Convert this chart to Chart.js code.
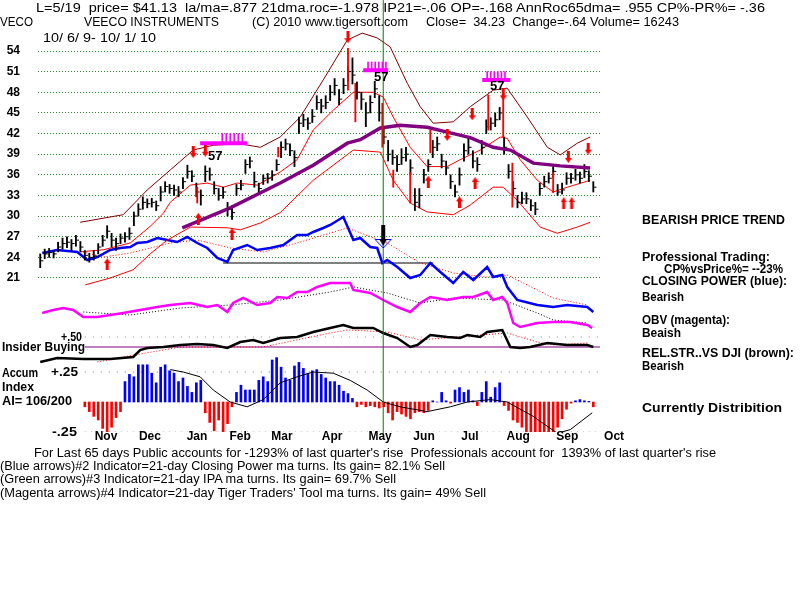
<!DOCTYPE html>
<html>
<head>
<meta charset="utf-8">
<script src="https://cdn.jsdelivr.net/npm/chart.js@4.4.1/dist/chart.umd.min.js"></script>
<style>
html,body{margin:0;padding:0;background:#fff;}
#wrap{position:relative;width:800px;height:600px;overflow:hidden;background:#fff}
#c{position:absolute;left:0;top:0}
.t{position:absolute;white-space:pre;font-family:"Liberation Sans",Arial,sans-serif;font-size:13px;line-height:14px;color:#000;transform-origin:0 0;z-index:2}
.b{font-weight:bold;font-size:12px}
.s{font-size:12px}
</style>
</head>
<body>
<div id="wrap">
<canvas id="c" width="800" height="600"></canvas>
<div class="t" style="left:36px;top:1px" data-w="729">L=5/19  price= $41.13  la/ma=.877 21dma.roc=-1.978 IP21=-.06 OP=-.168 AnnRoc65dma= .955 CP%-PR%= -.36</div>
<div class="t" style="left:0px;top:15px" data-w="33">VECO</div>
<div class="t" style="left:84px;top:15px" data-w="135">VEECO INSTRUMENTS</div>
<div class="t" style="left:252px;top:15px" data-w="156">(C) 2010 www.tigersoft.com</div>
<div class="t" style="left:426px;top:15px" data-w="253">Close=  34.23  Change=-.64 Volume= 16243</div>
<div class="t" style="left:43px;top:31px" data-w="113">10/ 6/ 9- 10/ 1/ 10</div>

<div class="t b" style="left:642px;top:213px" data-w="143">BEARISH PRICE TREND</div>
<div class="t b" style="left:642px;top:250px" data-w="128">Professional Trading:</div>
<div class="t b" style="left:664px;top:262px" data-w="119">CP%vsPrice%= --23%</div>
<div class="t b" style="left:642px;top:274px" data-w="145">CLOSING POWER (blue):</div>
<div class="t b" style="left:642px;top:290px" data-w="42">Bearish</div>
<div class="t b" style="left:642px;top:313px" data-w="88">OBV (magenta):</div>
<div class="t b" style="left:642px;top:326px" data-w="39">Beaish</div>
<div class="t b" style="left:642px;top:346px" data-w="152">REL.STR..VS DJI (brown):</div>
<div class="t b" style="left:642px;top:359px" data-w="42">Bearish</div>
<div class="t b" style="left:642px;top:401px" data-w="140">Currently Distribition</div>

<div class="t b" style="left:61px;top:330px" data-w="21">+.50</div>
<div class="t b" style="left:2px;top:340px" data-w="83">Insider Buying</div>
<div class="t b" style="left:2px;top:366px" data-w="36">Accum</div>
<div class="t b" style="left:51px;top:365px" data-w="27">+.25</div>
<div class="t b" style="left:2px;top:380px" data-w="32">Index</div>
<div class="t b" style="left:2px;top:394px" data-w="70">AI= 106/200</div>
<div class="t b" style="left:52px;top:425px" data-w="25">-.25</div>

<div class="t s" style="left:34px;top:446px" data-w="682">For Last 65 days Public accounts for -1293% of last quarter's rise  Professionals account for  1393% of last quarter's rise</div>
<div class="t s" style="left:0px;top:459px" data-w="445">(Blue arrows)#2 Indicator=21-day Closing Power ma turns. Its gain= 82.1% Sell</div>
<div class="t s" style="left:0px;top:472px" data-w="396">(Green arrows)#3 Indicator=21-day IPA ma turns. Its gain= 69.7% Sell</div>
<div class="t s" style="left:0px;top:486px" data-w="486">(Magenta arrows)#4 Indicator=21-day Tiger Traders' Tool ma turns. Its gain= 49% Sell</div>
</div>
<script>
// ---------- DATA (x = trading-day index from 10/6/09) ----------
const priceTicks = [21,24,27,30,33,36,39,42,45,48,51,54];
const monthLabels = ['Nov','Dec','Jan','Feb','Mar','Apr','May','Jun','Jul','Aug','Sep','Oct'];
const monthDay = [29.5,49.2,70.3,89.6,108.4,130.9,152.4,172.1,192.7,214.3,236.3,257.3];

// daily bars, sampled every 2 trading days
const priceClose = [23.5,24.5,24.7,24.5,25.5,26.0,26.2,26.0,26.5,25.5, 24.3,24.0,24.2,25.5,26.5,27.8,26.5,26.0,26.8,27.0,
 27.5,30.0,31.0,32.0,31.8,32.0,31.5,33.5,34.3,34.0, 33.8,33.5,35.0,36.5,35.8,33.5,33.0,36.5,36.0,34.0,
 33.0,33.5,31.0,30.5,34.0,34.5,37.5,38.0,35.0,34.0, 35.5,35.5,36.0,37.5,40.0,40.5,39.5,38.5,43.5,44.0,
 43.5,44.5,46.5,46.0,46.5,48.0,49.0,47.0,49.0,51.0, 50.5,48.0,47.0,45.0,46.5,48.5,45.0,41.5,39.0,38.5,
 37.5,38.5,39.0,37.0,32.0,33.0,36.0,37.5,40.0,40.5, 38.0,37.0,35.0,33.5,36.0,39.5,40.0,38.0,37.5,40.0,
 43.0,43.5,44.0,45.0,40.0,36.5,34.0,32.0,32.5,32.5, 31.5,31.0,34.0,35.0,35.5,36.5,33.5,33.8,35.5,35.5,
 36.0,35.5,36.5,35.8,34.2];
const priceLow = [22.5,23.8,24.0,23.9,24.8,25.2,25.4,25.0,25.6,24.8, 23.6,23.3,23.6,24.5,25.6,26.8,25.5,25.0,26.0,26.2,
 26.6,28.6,30.0,31.0,31.2,31.3,30.8,32.2,33.5,33.3, 33.0,32.8,34.0,35.5,35.0,32.8,31.6,35.0,35.2,33.2,
 32.3,32.6,30.0,29.5,33.0,33.8,36.2,37.0,34.2,33.3, 34.6,34.8,35.2,36.6,38.5,39.6,38.8,37.2,42.0,43.0,
 42.6,43.6,45.5,45.0,45.6,46.8,47.6,46.2,47.8,49.6, 49.2,47.0,45.5,43.0,45.0,47.2,43.8,40.5,38.0,37.5,
 36.5,37.5,38.0,36.0,30.8,31.2,34.8,36.5,38.5,39.5, 37.0,36.0,34.0,32.8,34.5,38.0,39.0,37.0,36.5,39.0,
 42.0,42.5,43.0,44.0,39.0,35.5,33.0,31.2,31.8,31.8, 30.8,30.2,33.0,34.2,34.8,35.6,33.0,33.2,34.6,34.8,
 35.2,34.8,35.6,35.0,33.5];
const priceHigh = [24.5,25.2,25.3,25.0,26.2,26.8,27.0,26.6,27.2,26.3, 25.0,24.6,25.0,26.0,27.2,28.6,27.5,26.8,27.4,27.6,
 28.3,30.6,31.8,32.8,32.5,32.6,32.2,34.3,35.0,34.6, 34.5,34.3,35.6,37.4,36.6,34.8,33.8,37.3,37.0,35.0,
 34.0,34.2,32.0,31.5,34.6,35.2,38.2,38.6,36.4,34.8, 36.0,36.2,36.6,38.2,40.8,41.2,40.5,39.5,44.4,44.8,
 44.3,45.5,47.5,47.0,47.5,49.0,50.0,48.4,50.0,51.8, 53.0,49.5,48.0,46.5,47.5,49.6,47.5,43.0,41.0,39.6,
 38.8,39.8,40.0,38.2,34.0,34.0,36.8,38.2,41.0,41.5, 39.0,38.0,36.0,34.5,37.0,40.5,41.5,39.5,38.5,41.0,
 44.0,44.3,45.0,45.8,41.5,37.5,35.0,33.0,33.5,33.4, 32.4,32.0,34.8,35.8,36.3,37.2,34.6,34.8,36.3,36.2,
 36.8,36.4,37.5,36.6,35.0];

// red (signal) bars
const redBarDay  = [70.4,106.7,138,141.3,153.4,158.3,165.9,174.9,200.9,207.6,211.7,230];
const redBarLow  = [31.9,38.6,48.3,43.7,40.0,34.2,31.9,39.2,42.5,41.5,31.3,33.4];
const redBarHigh = [34.2,40.0,54.4,49.3,46.4,36.7,36.3,42.5,47.6,47.9,37.7,36.3];

// bands and moving averages (price units)
const upperDay = [17.9,37.2,48.0,58.3,68.6,77.6,89.7,98.7,107.6,116.6,126.9,137.7,144.4,151.1,156.9,164.6,170.4,176.2,185.2,192.8,203.1,209.4,218.4,227.4,233.2,240.8,246.6];
const upperVal = [29.1,30.2,33.8,36.7,39.6,40.3,40.5,40.0,41.5,44.4,49.8,55.6,56.6,55.9,54.6,49.3,45.9,43.5,43.7,45.9,48.3,48.6,44.4,40.0,38.9,40.6,41.5];
const midDay = [17.9,28.3,40.4,49.3,55.2,58.3,67.3,74.9,82.1,88.3,97.3,107.6,115.2,122.4,131.4,140.4,149.3,153.8,158.3,165.9,173.5,182.5,188.3,197.3,206.3,209.4,215.2,222.9,230,236.3,246.6];
const midVal = [24.8,25.1,26.1,28.5,30.4,32.0,34.5,34.8,34.2,34.8,34.5,36.4,38.2,42.5,45.4,48.0,48.0,47.3,44.4,40.0,37.2,37.2,38.2,39.6,41.5,41.3,38.2,35.2,33.5,34.2,35.2];
const lowerDay = [20.2,31.4,41.7,49.3,56.9,67.3,83.9,89.7,98.7,107.6,122.4,140.4,152.5,158.3,165.9,173.5,185.2,192.8,203.1,207.6,213.9,224.2,231.8,240.8,246.6];
const lowerVal = [20.0,21.0,22.2,24.5,26.5,28.4,28.3,28.0,29.0,30.5,35.2,39.6,39.3,35.2,31.9,30.6,30.2,31.6,34.2,34.2,32.3,28.4,27.5,28.4,29.1];
const ma65Day = [63.7,85.2,107.6,122.4,137.7,143.5,152.5,161.4,173.5,183.9,192.8,203.1,210.8,221.1,233.2,246.6];
const ma65Val = [28.3,31.2,34.8,37.4,40.6,41.1,42.8,43.2,42.9,42.1,41.4,40.0,39.6,37.7,37.3,37.0];

// closing power (blue) and its MA
const cpDay = [0.9,7.6,16.6,21.1,25.6,31.4,35.9,40.4,43.5,48.0,52.5,57.0,61.4,65.9,70.4,74.9,79.4,83.9,86.5,92.8,97.3,103.1,109.0,115.2,119.7,122.4,126.9,130.0,135.9,140.4,143.5,148.0,151.1,153.4,155.6,160.1,165.9,170.4,174.9,179.4,185.2,189.7,194.2,200.4,203.1,207.2,209.4,213.9,222.9,230.0,236.3,245.3,248.0];
const cpVal = [4.7,5.0,4.8,4.0,4.3,5.0,5.2,5.3,5.7,5.8,6.2,6.0,5.8,6.3,5.7,5.2,4.2,3.8,5.0,5.5,5.0,5.2,5.5,6.5,6.5,6.8,7.2,7.5,8.3,6.0,6.2,5.3,5.2,3.7,4.0,3.3,2.2,2.5,3.7,2.8,1.7,2.8,2.0,3.3,2.3,2.5,1.3,0.0,-0.5,-0.7,-0.5,-0.7,-1.2];
const cpMaDay = [19.3,28.3,40.4,58.3,70.4,85.2,100,115.2,130,137.7,155.6,170.4,185.2,200.4,209.4,222.9,230,245.3];
const cpMaVal = [4.8,4.3,4.7,5.7,6.0,5.2,4.8,5.7,6.7,7.2,5.7,3.7,2.7,2.3,2.5,1.0,0.2,-0.5];
const cpSupport = 3.7, cpSupportStart = 82, cpSupportEnd = 176.2;

// OBV (magenta) and its MA
const obvDay = [0.9,5.8,10.3,14.8,19.3,25.6,31.4,37.2,44.8,52.5,58.3,67.3,74.9,79.4,83.9,86.5,91.0,97.3,103.1,106.3,110.8,115.2,119.7,124.2,130.0,139.0,140.4,148.0,153.8,160.1,165.9,170.4,174.9,182.5,189.7,194.2,200.4,203.1,207.2,209.4,212.1,215.2,222.9,230,237.7,245.3,247.5];
const obvVal = [1.7,2.0,2.2,2.0,1.3,1.3,1.5,1.7,2.0,2.3,2.5,2.7,2.3,2.5,1.8,2.7,3.2,2.5,2.7,3.3,3.2,3.8,3.8,4.3,4.7,4.7,4.0,3.7,3.0,2.3,1.8,2.7,3.3,3.0,3.3,3.3,3.8,3.0,3.3,2.7,0.7,0.3,0.7,0.8,0.8,0.5,0.2];
const obvMaDay = [19.3,40.4,62.8,85.2,107.6,130,140.4,155.6,170.4,185.2,207.6,222.9,230,245.3];
const obvMaVal = [1.8,1.5,2.2,2.5,3.0,3.8,4.3,3.7,2.7,3.2,3.0,1.7,1.0,0.7];

// relative strength vs DJI and its MA; insider-buying baseline
const rsDay = [0,7.6,19.3,31.4,41.7,44.8,48,55.2,62.8,70.4,77.6,83.9,89.7,95.5,100,107.6,115.2,122.4,130,135.9,140.4,149.3,153.8,160.1,165.9,169.1,174.9,182.5,188.3,191.5,197.3,200.4,207.2,210.8,215.2,219.7,227.4,236.3,245.3,248];
const rsVal = [-0.75,-0.55,-0.6,-0.6,-0.5,-0.15,-0.05,0,0.1,0.15,0.1,-0.05,0.25,0.35,0.2,0.45,0.5,0.75,0.95,1.1,0.95,0.95,0.7,0.45,0,0.1,0.6,0.5,0.45,0.6,0.5,0.75,0.85,0,-0.05,0,0.2,0.1,0.1,0];
const rsMaDay = [25.6,37.2,62.8,100,130,137.7,155.6,170.4,197.3,209.4,222.9,230,245.3];
const rsMaVal = [-0.75,-0.5,0,0,0.7,0.85,0.75,0.35,0.6,0.7,0.25,0.1,0.2];
const insiderLevel = 0, rsRefLevel = 0.5;

// accumulation index, every 2 trading days from day 20
const accumVal = [-0.04,-0.08,-0.12,-0.15,-0.22,-0.26,-0.21,-0.13,-0.08,0.17, 0.23,0.21,0.31,0.31,0.31,0.24,0.16,0.29,0.31,0.26,
 0.24,0.17,0.20,0.13,0.08,0.16,0.18,-0.09,-0.17,-0.24, -0.15,-0.28,-0.18,-0.04,0.08,0.14,0.10,0.10,0.10,0.18,
 0.21,0.17,0.35,0.37,0.29,0.20,0.18,0.30,0.33,0.28, 0.24,0.26,0.27,0.23,0.20,0.17,0.17,0.14,0.09,0.07,
 0.03,-0.04,-0.02,-0.04,-0.03,-0.04,-0.05,-0.04,-0.09,-0.15, -0.08,-0.10,-0.12,-0.14,-0.09,-0.08,-0.09,-0.07,0.01,0.0,
 0.08,0.01,-0.01,0.10,0.12,0.08,0.10,0.01,-0.03,0.08, 0.17,0.04,0.12,0.16,-0.03,-0.07,-0.15,-0.17,-0.21,-0.25,
 -0.26,-0.27,-0.28,-0.29,-0.30,-0.26,-0.21,-0.14,-0.06,-0.01, 0.01,0.02,0.01,0.005,-0.04];
const accMaDay = [58.3,64.1,71.7,77.6,85.2,92.8,100,107.6,115.2,122.4,131.4,139,146.6,153.8,161.4,173.5,183.9,191.5,201.8,209.4,221.1,231.8,237.7,247.5];
const accMaVal = [0.27,0.25,0.21,0.10,0.0,-0.04,0.02,0.16,0.21,0.25,0.24,0.18,0.10,0.0,-0.04,-0.08,-0.04,0.0,0.02,0.0,-0.12,-0.26,-0.23,-0.09];
const accumRefLevels = [0.25,-0.25];
const refStartDay = 20, refEndDay = 251;

// signals
const upDay = [30,70.9,86,174,188,195];
const upPrice = [23.0,29.6,27.4,35.0,32.0,34.8];
const dblUpDay = [236.5];
const dblUpPrice = [31.9];
const downDay = [68.6,74,138,182.5,193.7,207.6,236.8,245.7];
const downPrice = [39.3,39.5,56.0,41.8,44.8,47.7,38.6,39.8];
const magBandStart = [71.7,144.8,198.2];
const magBandEnd = [92.8,156,210.8];
const magBandPrice = [40.6,51.2,49.8];
const magTickDay = [81.6,83.4,85.2,87.0,88.8,90.6, 147,148.6,150.2,151.8,153.4,155, 200.4,202,203.6,205.2,206.8,208.4];
const magTickLow = [40.6,40.6,40.6,40.6,40.6,40.6, 51.2,51.2,51.2,51.2,51.2,51.2, 49.8,49.8,49.8,49.8,49.8,49.8];
const magTickHigh = [42.0,42.0,42.0,42.0,42.0,42.0, 52.4,52.4,52.4,52.4,52.4,52.4, 51.0,51.0,51.0,51.0,51.0,51.0];
const sigLabelDay = [78.5,152.9,204.9];
const sigLabelPrice = [38.7,50.2,48.9];
const sigLabelText = ['57','57','57'];
const sellSignalDay = 153.8, cpSellArrowVal = 6.3;

// ---------- BUILD ----------
const barDay = priceClose.map((_, k) => 2 * k);
const accumDay = accumVal.map((_, i) => 20 + 2 * i);
const pts = (days, vals) => days.map((d, i) => ({x: d, y: vals[i]}));

function arrowCanvas(color, up, w, h, n) {
  const c = document.createElement('canvas');
  c.width = w * n + (n - 1) * 2; c.height = h;
  const g = c.getContext('2d'); g.fillStyle = color;
  const head = Math.round(h * 0.42), sw = 3;
  for (let j = 0; j < n; j++) {
    const ox = j * (w + 2), hw = w / 2;
    if (up) {
      g.beginPath(); g.moveTo(ox + hw, 0); g.lineTo(ox + w, head); g.lineTo(ox, head); g.closePath(); g.fill();
      g.fillRect(ox + hw - sw / 2, head, sw, h - head);
    } else {
      g.fillRect(ox + hw - sw / 2, 0, sw, h - head);
      g.beginPath(); g.moveTo(ox, h - head); g.lineTo(ox + w, h - head); g.lineTo(ox + hw, h); g.closePath(); g.fill();
    }
  }
  return c;
}
function sellArrowCanvas() {
  const c = document.createElement('canvas'); c.width = 18; c.height = 24;
  const g = c.getContext('2d');
  g.fillStyle = '#000'; g.fillRect(7, 0, 4, 15);
  g.strokeStyle = '#0000ff'; g.lineWidth = 1;
  g.beginPath(); g.moveTo(1, 14.5); g.lineTo(17, 14.5); g.lineTo(9, 23); g.closePath(); g.stroke();
  g.fillStyle = '#000'; g.beginPath(); g.moveTo(5, 14); g.lineTo(13, 14); g.lineTo(9, 21); g.closePath(); g.fill();
  return c;
}
const upImg = arrowCanvas('#ff0000', true, 7, 12, 1);
const dblUpImg = arrowCanvas('#ff0000', true, 6, 12, 2);
const downImg = arrowCanvas('#ff0000', false, 7, 12, 1);
const sellImg = sellArrowCanvas();

const magBandPts = [];
magBandStart.forEach((s, i) => { magBandPts.push({x: s, y: magBandPrice[i]}, {x: magBandEnd[i], y: magBandPrice[i]}, {x: magBandEnd[i] + 0.01, y: null}); });

const line = (data, axis, color, width, extra) => Object.assign({type: 'line', data, yAxisID: axis, borderColor: color, borderWidth: width, pointRadius: 0, tension: 0, fill: false, spanGaps: false}, extra || {});
const hseg = (lvl, x0, x1) => [{x: x0, y: lvl}, {x: x1, y: lvl}];

const datasets = [
  {type: 'scatter', data: pts(upDay, upPrice), yAxisID: 'y', pointStyle: upImg, radius: 8, order: 0, clip: false},
  {type: 'scatter', data: pts(dblUpDay, dblUpPrice), yAxisID: 'y', pointStyle: dblUpImg, radius: 8, order: 0, clip: false},
  {type: 'scatter', data: pts(downDay, downPrice), yAxisID: 'y', pointStyle: downImg, radius: 8, order: 0, clip: false},
  {type: 'scatter', data: [{x: sellSignalDay, y: cpSellArrowVal}], yAxisID: 'yC', pointStyle: sellImg, radius: 8, order: 0},
  line(magBandPts, 'y', '#ff00ff', 4, {order: 1}),
  {type: 'bar', data: magTickDay.map((d, i) => ({x: d, y: [magTickLow[i], magTickHigh[i]]})), yAxisID: 'y', backgroundColor: '#ff00ff', barThickness: 1, grouped: false, order: 1},
  line([{x: sellSignalDay, y: -2.1}, {x: sellSignalDay, y: 61.4}], 'y', '#008000', 1, {order: 2, clip: false}),
  {type: 'bar', data: redBarDay.map((d, i) => ({x: d, y: [redBarLow[i], redBarHigh[i]]})), yAxisID: 'y', backgroundColor: '#ff0000', barThickness: 1.2, grouped: false, order: 2},
  {type: 'scatter', data: barDay.map((d, k) => ({x: d + 0.7, y: priceClose[k]})), yAxisID: 'y', pointStyle: 'line', radius: 1.6, borderColor: '#000', borderWidth: 1, order: 3},
  line(pts(ma65Day, ma65Val), 'y', '#800080', 3.5, {order: 3.5}),
  {type: 'bar', data: barDay.map((d, k) => ({x: d, y: [priceLow[k], priceHigh[k]]})), yAxisID: 'y', backgroundColor: '#000', barThickness: 1.2, grouped: false, order: 4},
  line(pts(upperDay, upperVal), 'y', '#800000', 1, {order: 6, clip: false}),
  line(pts(midDay, midVal), 'y', '#ff0000', 1, {order: 6}),
  line(pts(lowerDay, lowerVal), 'y', '#ff0000', 1, {order: 6}),
  line(pts(cpDay, cpVal), 'yC', '#0000ff', 2.5, {order: 7}),
  line(pts(cpMaDay, cpMaVal), 'yC', '#ff0000', 1, {order: 8, borderDash: [1, 2]}),
  line(hseg(cpSupport, cpSupportStart, cpSupportEnd), 'yC', '#000', 1.2, {order: 8}),
  line(pts(obvDay, obvVal), 'yO', '#ff00ff', 2.5, {order: 7}),
  line(pts(obvMaDay, obvMaVal), 'yO', '#000', 1, {order: 8, borderDash: [1, 2]}),
  line(pts(rsDay, rsVal), 'yR', '#000', 2.5, {order: 7}),
  line(pts(rsMaDay, rsMaVal), 'yR', '#ff0000', 1, {order: 8, borderDash: [1, 2]}),
  line(hseg(insiderLevel, refStartDay, refEndDay), 'yR', '#800080', 1, {order: 9}),
  line(hseg(rsRefLevel, refStartDay, refEndDay), 'yR', '#888', 1, {order: 10, borderDash: [1, 7]}),
  line(hseg(accumRefLevels[0], refStartDay, refEndDay), 'yA', '#777', 1, {order: 10, borderDash: [1, 7]}),
  line(hseg(accumRefLevels[1], refStartDay, refEndDay), 'yA', '#c08080', 1, {order: 10, borderDash: [1, 5]}),
  line(pts(accMaDay, accMaVal), 'yA', '#000', 1, {order: 8}),
  {type: 'bar', data: pts(accumDay, accumVal), yAxisID: 'yA', backgroundColor: c => (c.raw && c.raw.y >= 0) ? '#0000ff' : '#ff0000', barThickness: 2, grouped: false, order: 9}
];

const textPlugin = {
  id: 'texts',
  afterDatasetsDraw(chart) {
    const ctx = chart.ctx, xs = chart.scales.x, ys = chart.scales.y;
    ctx.save();
    ctx.fillStyle = '#000'; ctx.textAlign = 'center'; ctx.textBaseline = 'middle';
    ctx.font = 'bold 12px "Liberation Sans", Arial, sans-serif';
    const yb = chart.chartArea.bottom + 5;
    monthDay.forEach((d, i) => ctx.fillText(monthLabels[i], xs.getPixelForValue(d), yb));
    ctx.font = 'bold 13px "Liberation Sans", Arial, sans-serif';
    sigLabelDay.forEach((d, i) => ctx.fillText(sigLabelText[i], xs.getPixelForValue(d), ys.getPixelForValue(sigLabelPrice[i])));
    ctx.restore();
  }
};

Chart.defaults.font.family = '"Liberation Sans", Arial, sans-serif';
new Chart(document.getElementById('c'), {
  type: 'line',
  data: {datasets},
  options: {
    responsive: false, animation: false, events: [],
    layout: {padding: {left: 0, right: 200, top: 40, bottom: 168}},
    plugins: {legend: {display: false}, tooltip: {enabled: false}},
    scales: {
      x: {type: 'linear', min: -1, max: 251, display: false, offset: false},
      y: {
        type: 'linear', position: 'left', min: -1.39, max: 55.6,
        afterBuildTicks: s => { s.ticks = priceTicks.map(v => ({value: v})); },
        afterFit: s => { s.width = 38; },
        ticks: {color: '#000', padding: 18, font: {size: 12, weight: 'bold'}, callback: v => String(v)},
        grid: {color: '#2f8f2f', drawTicks: false, lineWidth: 1},
        border: {display: false, dash: [1, 2]}
      },
      yC: {type: 'linear', display: false, min: -13.2, max: 26},
      yO: {type: 'linear', display: false, min: -10.2, max: 29},
      yR: {type: 'linear', display: false, min: -4.25, max: 15.35},
      yA: {type: 'linear', display: false, min: -0.25, max: 3.0167}
    }
  },
  plugins: [textPlugin]
});

document.querySelectorAll('[data-w]').forEach(el => {
  const w = +el.dataset.w, n = el.getBoundingClientRect().width;
  if (n > 0) el.style.transform = 'scaleX(' + (w / n).toFixed(4) + ')';
});
</script>
</body>
</html>
